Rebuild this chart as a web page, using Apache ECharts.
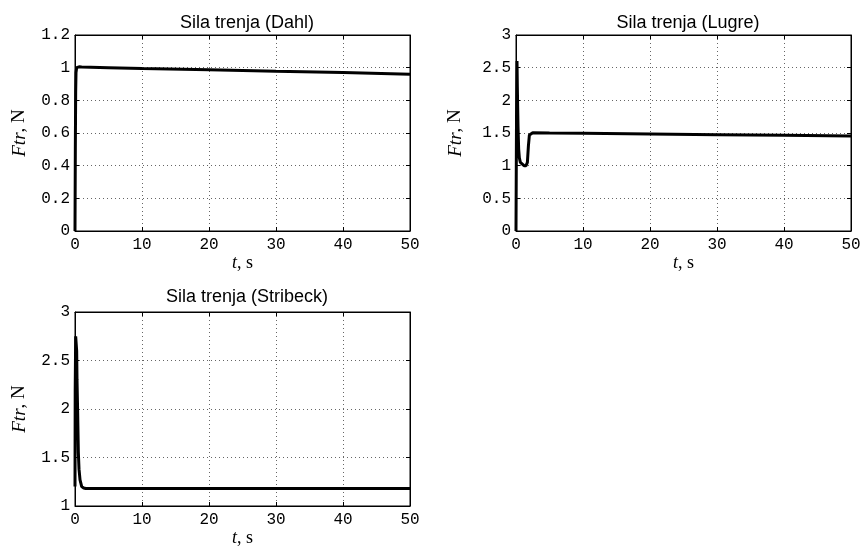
<!DOCTYPE html>
<html><head><meta charset="utf-8">
<script src="https://cdn.jsdelivr.net/npm/echarts@6/dist/echarts.min.js"></script>
<style>html,body{margin:0;padding:0;background:#fff}#c{width:865px;height:552px}</style>
</head><body><div id="c"></div>
<script>
const titles = ['Sila trenja (Dahl)', 'Sila trenja (Lugre)', 'Sila trenja (Stribeck)'];
const xTicks = { min: 0, max: 50, interval: 10 };
const yRanges = [
  { min: 0, max: 1.2, interval: 0.2 },
  { min: 0, max: 3, interval: 0.5 },
  { min: 1, max: 3, interval: 0.5 }
];
const dahlT = [0, 0.05, 0.1, 0.15, 0.25, 0.6, 1, 5, 10, 20, 30, 40, 50];
const dahlF = [0, 0.5, 0.85, 0.97, 1.0, 1.005, 1.004, 1.0, 0.995, 0.987, 0.978, 0.970, 0.960];
const lugreT = [0, 0.08, 0.15, 0.2, 0.3, 0.4, 0.5, 0.65, 0.9, 1.2, 1.5, 1.7, 1.85, 2.0, 2.2, 2.5, 5, 10, 20, 30, 40, 50];
const lugreF = [0, 1.8, 2.6, 2.2, 1.6, 1.25, 1.12, 1.05, 1.02, 1.0, 1.0, 1.05, 1.3, 1.47, 1.5, 1.505, 1.5, 1.495, 1.485, 1.475, 1.465, 1.455];
const stribeckT = [0, 0.03, 0.1, 0.2, 0.25, 0.3, 0.4, 0.5, 0.6, 0.75, 1.0, 1.3, 1.6, 50];
const stribeckF = [1.2, 2.2, 2.75, 2.75, 2.6, 2.3, 1.95, 1.55, 1.38, 1.27, 1.2, 1.185, 1.18, 1.18];

const seriesData = [[dahlT, dahlF], [lugreT, lugreF], [stribeckT, stribeckF]];
const grids = [
  { left: 75, top: 35, width: 335, height: 196 },
  { left: 516, top: 35, width: 335, height: 196 },
  { left: 75, top: 312, width: 335, height: 194 }
];
const titlePos = [{ x: 242, y: 9 }, { x: 683, y: 9 }, { x: 242, y: 283 }];
const yNameGap = [46, 51, 46];

const mono = 'Liberation Mono';
const serif = 'Liberation Serif';
const splitStyle = { show: true, lineStyle: { color: '#666', type: [1, 3], width: 1 } };

const option = { animation: false, title: [], grid: [], xAxis: [], yAxis: [], series: [] };
grids.forEach((g, i) => {
  option.grid.push(Object.assign({ show: true, borderColor: '#000', borderWidth: 1, backgroundColor: '#fff' }, g));
  option.title.push({
    text: titles[i], left: titlePos[i].x, top: titlePos[i].y, textAlign: 'center',
    textStyle: { fontFamily: 'Liberation Sans', fontSize: 18, fontWeight: 'normal', color: '#000' }
  });
  option.xAxis.push({
    type: 'value', gridIndex: i, min: xTicks.min, max: xTicks.max, interval: xTicks.interval,
    axisLine: { show: true, onZero: false, lineStyle: { color: '#000' } },
    axisTick: { show: true, inside: true, length: 4, lineStyle: { color: '#000' } },
    axisLabel: { color: '#000', fontFamily: mono, fontSize: 16, margin: 6 },
    splitLine: splitStyle,
    name: '{i|t}{r|, s}', nameLocation: 'middle', nameGap: 23,
    nameTextStyle: { rich: {
      i: { fontFamily: serif, fontStyle: 'italic', fontSize: 18, color: '#000' },
      r: { fontFamily: serif, fontSize: 18, color: '#000' } } }
  });
  option.xAxis.push({
    type: 'value', gridIndex: i, position: 'top', min: xTicks.min, max: xTicks.max, interval: xTicks.interval,
    axisLine: { show: true, onZero: false, lineStyle: { color: '#000' } },
    axisTick: { show: true, inside: true, length: 4, lineStyle: { color: '#000' } },
    axisLabel: { show: false }, splitLine: { show: false }
  });
  option.yAxis.push({
    type: 'value', gridIndex: i, min: yRanges[i].min, max: yRanges[i].max, interval: yRanges[i].interval,
    axisLine: { show: true, onZero: false, lineStyle: { color: '#000' } },
    axisTick: { show: true, inside: true, length: 4, lineStyle: { color: '#000' } },
    axisLabel: { color: '#000', fontFamily: mono, fontSize: 16, margin: 5 },
    splitLine: splitStyle,
    name: '{i|Ftr}{r|, N}', nameLocation: 'middle', nameGap: yNameGap[i], nameRotate: 90,
    nameTextStyle: { rich: {
      i: { fontFamily: serif, fontStyle: 'italic', fontSize: 19, color: '#000' },
      r: { fontFamily: serif, fontSize: 19, color: '#000' } } }
  });
  option.yAxis.push({
    type: 'value', gridIndex: i, position: 'right', min: yRanges[i].min, max: yRanges[i].max, interval: yRanges[i].interval,
    axisLine: { show: true, onZero: false, lineStyle: { color: '#000' } },
    axisTick: { show: true, inside: true, length: 4, lineStyle: { color: '#000' } },
    axisLabel: { show: false }, splitLine: { show: false }
  });
  const [ts, fs] = seriesData[i];
  option.series.push({
    type: 'line', xAxisIndex: 2 * i, yAxisIndex: 2 * i, showSymbol: false, symbol: 'none',
    lineStyle: { color: '#000', width: 3 }, data: ts.map((t, k) => [t, fs[k]]), z: 5
  });
});
const chart = echarts.init(document.getElementById('c'), null, { renderer: 'canvas' });
chart.setOption(option);
</script></body></html>
